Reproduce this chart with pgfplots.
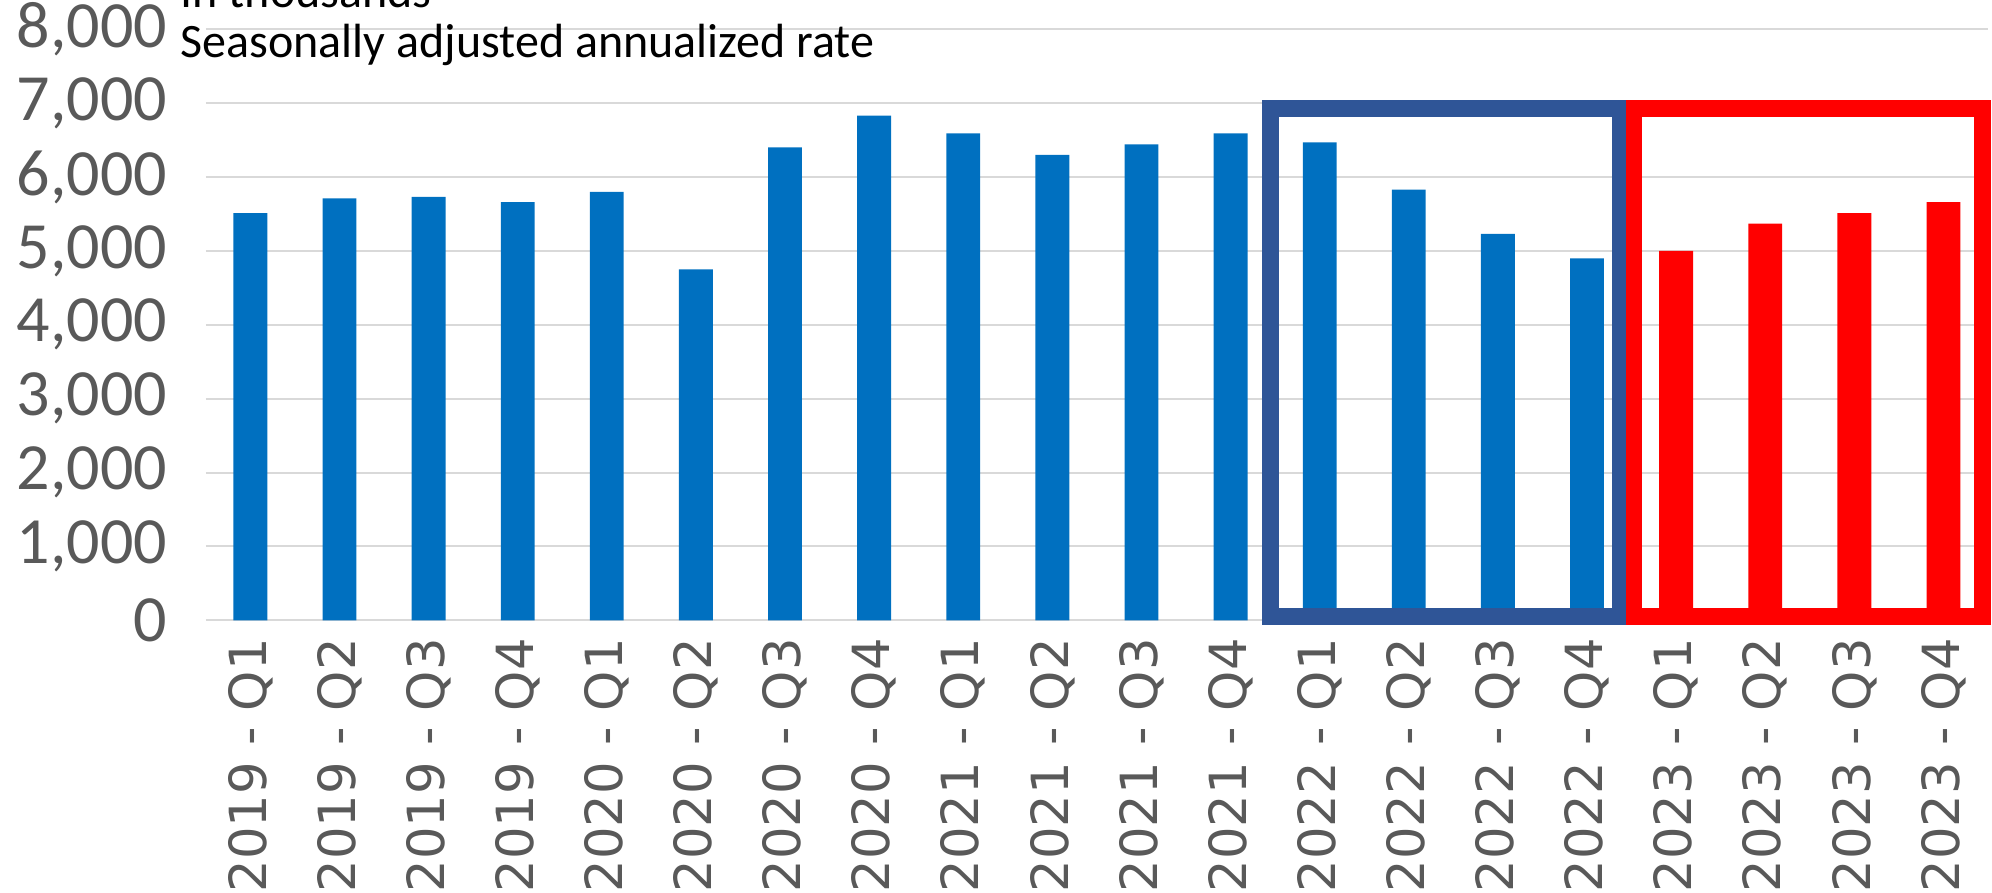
\documentclass[border=0pt]{standalone}
\usepackage{pgfplots}
\pgfplotsset{compat=1.18}
\usepackage{fontspec}
\setmainfont{Carlito}
\newfontfamily\dejavu{DejaVu Sans}
\definecolor{barblue}{HTML}{0070C0}
\definecolor{boxnavy}{HTML}{2F5597}
\definecolor{gridgray}{HTML}{D9D9D9}
\definecolor{labgray}{HTML}{595959}

\begin{document}
\begin{tikzpicture}
\begin{axis}[
    at={(0,0)}, anchor=south west,
    scale only axis,
    width=445.5pt, height=147.75pt,
    xmin=-0.5, xmax=19.5,
    ymin=0, ymax=8000,
    ybar, bar width=0.38,
    clip=false,
    axis line style={draw=none},
    tick style={draw=none},
    ymajorgrids,
    grid style={gridgray, line width=0.5pt},
    ytick={0,1000,...,8000},
    xtick={0,...,19},
    xticklabels={2019 - Q1,2019 - Q2,2019 - Q3,2019 - Q4,2020 - Q1,2020 - Q2,2020 - Q3,2020 - Q4,2021 - Q1,2021 - Q2,2021 - Q3,2021 - Q4,2022 - Q1,2022 - Q2,2022 - Q3,2022 - Q4,2023 - Q1,2023 - Q2,2023 - Q3,2023 - Q4},
    xticklabel style={rotate=90, anchor=east, font=\dejavu\fontsize{12.8}{14}\selectfont, text=labgray, inner sep=0pt},
    yticklabel style={font=\fontsize{16.5}{18}\selectfont, text=labgray, inner sep=0pt, xshift=-9.5pt},
    /pgf/number format/.cd, 1000 sep={,}, assume math mode=true,
]
% existing sales, thousands (SAAR)
\addplot[fill=barblue, draw=none, bar shift=0pt] coordinates {
    (0,5510) (1,5710) (2,5730) (3,5660)
    (4,5800) (5,4750) (6,6400) (7,6830)
    (8,6590) (9,6300) (10,6440) (11,6590)
    (12,6470) (13,5830) (14,5230) (15,4900)
};
\addplot[fill=red, draw=none, bar shift=0pt] coordinates {
    (16,5000) (17,5370) (18,5510) (19,5660)
};
\draw[boxnavy, line width=4.1pt] (axis cs:11.45,52) rectangle (axis cs:15.37,6928);
\draw[red, line width=4.1pt] (axis cs:15.53,52) rectangle (axis cs:19.44,6928);
\end{axis}
\node[anchor=base west, font=\fontsize{12}{14}\selectfont] at (-9.8pt,140.75pt) {Seasonally adjusted annualized rate};
\node[anchor=base west, font=\fontsize{12}{14}\selectfont] at (-9.8pt,153.3pt) {In thousands};
\pgfresetboundingbox
\path[use as bounding box] (-51.45pt,-68pt) rectangle (446.5pt,155.05pt);
\end{tikzpicture}
\end{document}
